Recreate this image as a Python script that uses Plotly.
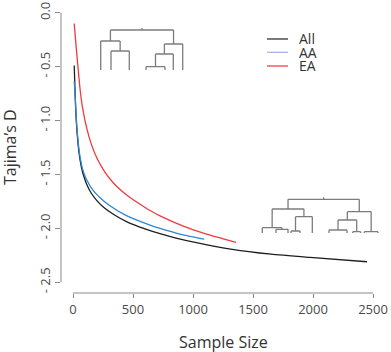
import plotly.graph_objects as go

# ---------------- data ----------------
all_x = [10, 14, 18, 22, 27, 33, 45, 58, 80, 114, 150, 197, 260, 336, 450, 600, 725, 850, 1058, 1300, 1650, 1975, 2450]
all_y = [-0.49, -0.62, -0.76, -0.88, -0.99, -1.10, -1.25, -1.36, -1.48, -1.59, -1.67, -1.74, -1.81, -1.87, -1.94, -2.005, -2.05, -2.088, -2.14, -2.19, -2.24, -2.27, -2.31]

aa_x = [10, 14, 18, 22, 27, 33, 45, 58, 80, 114, 169, 230, 308, 450, 642, 725, 900, 1094]
aa_y = [-0.64, -0.70, -0.77, -0.86, -0.97, -1.07, -1.22, -1.33, -1.45, -1.55, -1.65, -1.72, -1.79, -1.885, -1.97, -2.00, -2.055, -2.10]

ea_x = [10, 25, 42, 58, 75, 88, 100, 147, 200, 267, 350, 447, 550, 642, 725, 919, 1100, 1358]
ea_y = [-0.10, -0.30, -0.51, -0.70, -0.85, -0.93, -1.00, -1.20, -1.35, -1.48, -1.595, -1.69, -1.77, -1.835, -1.885, -1.98, -2.05, -2.13]

series_names = ["All", "AA", "EA"]

x_ticks = [0, 500, 1000, 1500, 2000, 2500]
y_ticks = [0.0, -0.5, -1.0, -1.5, -2.0, -2.5]
y_ticktext = ["0.0", "- 0.5", "- 1.0", "- 1.5", "- 2.0", "- 2.5"]

# dendrograms: leaf positions + merges (left id, right id, height)
top_leaves = [0, 10.3, 28.6, 45.3, 64.3, 72.6, 82]
top_merges = [(1, 2, 19), (0, 7, 29), (3, 4, 3.3), (9, 5, 16), (10, 6, 26), (8, 11, 40)]

bot_leaves = [0, 13.7, 25.7, 28.7, 37.7, 50, 66.7, 84.7, 90.4, 98.4, 102, 115.7]
bot_merges = [(1, 2, 3.7), (0, 12, 5.3), (3, 4, 2), (14, 5, 16.3), (13, 15, 24),
              (6, 7, 3), (8, 9, 1.3), (17, 18, 13), (10, 11, 1.3), (19, 20, 21.3), (16, 21, 33.7)]


def dendro_path(leaves, merges):
    xs = {i: v for i, v in enumerate(leaves)}
    hs = {i: 0.0 for i in range(len(leaves))}
    px, py = [], []
    nid = len(leaves)
    for a, b, h in merges:
        for c in (a, b):
            px += [xs[c], xs[c], None]
            py += [hs[c], h, None]
        px += [xs[a], xs[b], None]
        py += [h, h, None]
        xs[nid] = (xs[a] + xs[b]) / 2
        hs[nid] = h
        nid += 1
    root = nid - 1
    px += [xs[root], xs[root], None]
    py += [hs[root], hs[root] + 2, None]
    return px, py


FONT = "Open Sans"
GREY = "#8a8a8a"
TXT = "#4a4a4a"

fig = go.Figure()
colors = ["#1e1e1e", "#2f86d2", "#ee3a40"]
for name, xs, ys, c in zip(series_names, [all_x, aa_x, ea_x], [all_y, aa_y, ea_y], colors):
    fig.add_trace(go.Scatter(x=xs, y=ys, mode="lines", name=name,
                             line=dict(color=c, width=1.3, shape="spline", smoothing=0.5),
                             showlegend=False, hoverinfo="skip"))

tx, ty = dendro_path(top_leaves, top_merges)
fig.add_trace(go.Scatter(x=tx, y=ty, mode="lines", line=dict(color="#7c7c7c", width=1.3),
                         xaxis="x2", yaxis="y2", showlegend=False, hoverinfo="skip"))
bx, by = dendro_path(bot_leaves, bot_merges)
fig.add_trace(go.Scatter(x=bx, y=by, mode="lines", line=dict(color="#7c7c7c", width=1.3),
                         xaxis="x3", yaxis="y3", showlegend=False, hoverinfo="skip"))

# axis lines spanning only the tick range
fig.add_shape(type="line", xref="x", yref="paper", x0=x_ticks[0], x1=x_ticks[-1], y0=0, y1=0,
              line=dict(color=GREY, width=1))
fig.add_shape(type="line", xref="paper", yref="y", x0=0, x1=0, y0=y_ticks[0], y1=y_ticks[-1],
              line=dict(color=GREY, width=1))

# legend (manual)
leg_colors = ["#333333", "#a9b6e0", "#ee4444"]
leg_y = [0.8729, 0.8271, 0.7801]
for name, c, yy in zip(series_names, leg_colors, leg_y):
    fig.add_shape(type="line", xref="paper", yref="paper", x0=0.6358, x1=0.7006, y0=yy, y1=yy,
                  line=dict(color=c, width=1.3))
    fig.add_annotation(xref="paper", yref="paper", x=0.7315, y=yy, text=name, showarrow=False,
                       xanchor="left", yanchor="middle", height=13, borderpad=0,
                       font=dict(family=FONT, size=14, color="#333"))

# axis titles
fig.add_annotation(xref="paper", yref="paper", x=0.5, y=-0.168, text="Sample Size", showarrow=False,
                   xanchor="center", yanchor="middle", font=dict(family=FONT, size=16, color="#333"))
fig.add_annotation(xref="paper", yref="paper", x=-0.157, y=0.502, text="Tajima’s D", showarrow=False,
                   textangle=-90, xanchor="center", yanchor="middle",
                   font=dict(family=FONT, size=16, color="#333"))

fig.update_layout(
    width=391, height=352,
    margin=dict(l=61, r=6, t=2, b=59),
    paper_bgcolor="white", plot_bgcolor="white",
    font=dict(family=FONT, color=TXT),
    xaxis=dict(range=[-100, 2600], tickvals=x_ticks, ticks="outside", ticklen=4, tickcolor=GREY,
               tickwidth=1, showline=False, showgrid=False, zeroline=False,
               tickfont=dict(family=FONT, size=13, color=TXT)),
    yaxis=dict(range=[-2.6, 0.1], tickvals=y_ticks, ticktext=y_ticktext, ticks="outside", ticklen=5,
               tickcolor=GREY, tickwidth=1, showline=False, showgrid=False, zeroline=False,
               tickangle=-90, tickfont=dict(family=FONT, size=13, color=TXT)),
    xaxis2=dict(domain=[0.1071, 0.4003], range=[-5, 90], visible=False, anchor="y2"),
    yaxis2=dict(domain=[0.75945, 0.92096], range=[-2, 45], visible=False, anchor="x2"),
    xaxis3=dict(domain=[0.6059, 0.9846], range=[-5, 117.7], visible=False, anchor="y3"),
    yaxis3=dict(domain=[0.19931, 0.33677], range=[-2, 38], visible=False, anchor="x3"),
)

fig.write_html("out.html")
